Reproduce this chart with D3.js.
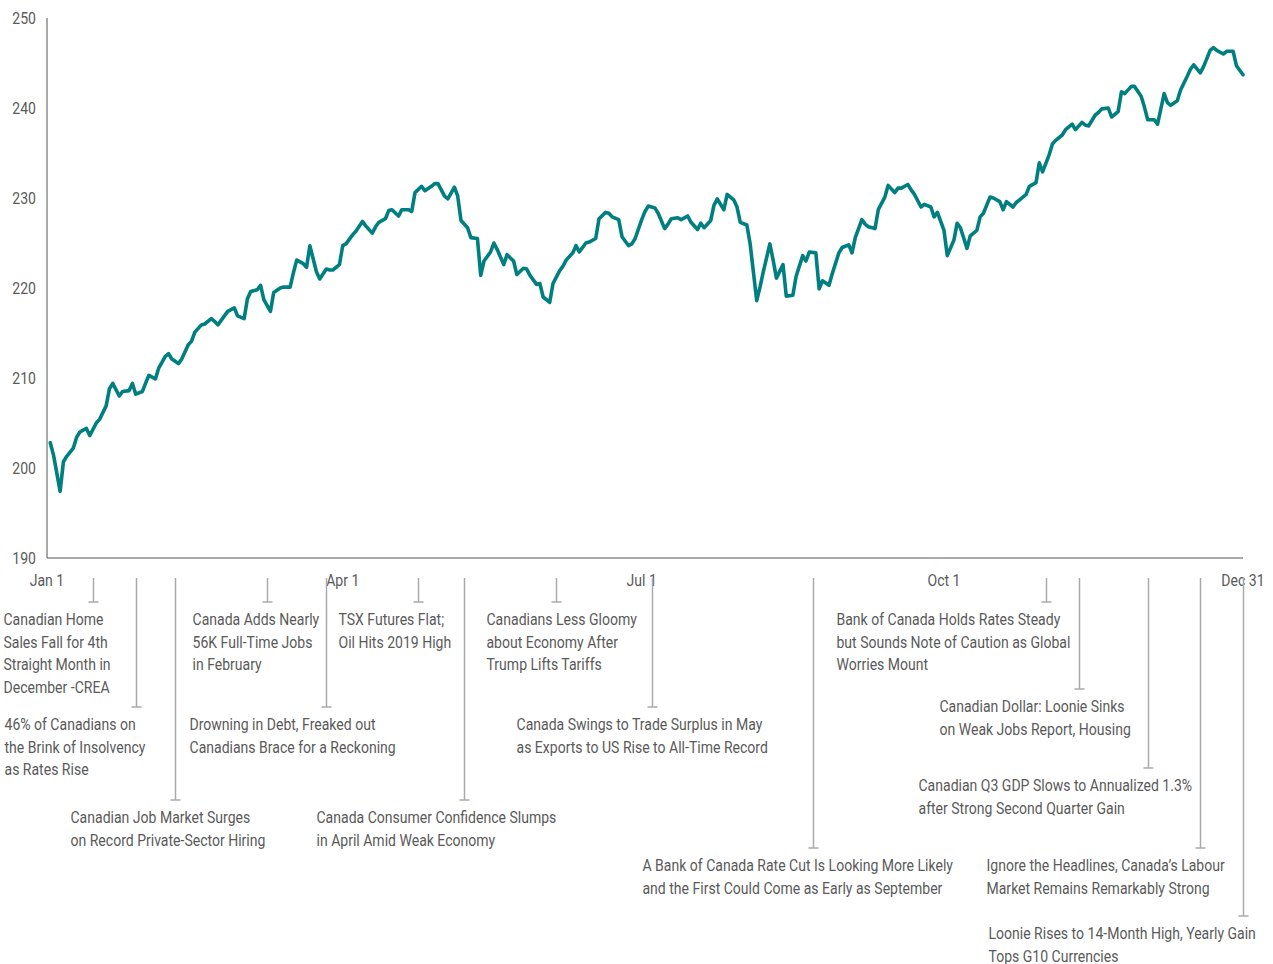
<!DOCTYPE html>
<html><head><meta charset="utf-8">
<script src="https://cdn.jsdelivr.net/npm/d3@7/dist/d3.min.js"></script>
<style>
body{margin:0;background:#fff}
text{font-family:"Roboto","Liberation Sans",sans-serif;}
</style>
</head><body>
<svg id="chart" width="1273" height="964"></svg>
<script>
// ---- DATA ----
// day of year in 2019 (Jan 1 = 0) for each index reading
const dayOfYear = [
1,2,4,5,6,8,9,10,12,13,15,16,18,19,20,22,23,25,26,27,29,30,31,33,34,36,37,38,40,41,43,44,45,47,48,50,51,52,54,55,57,58,60,61,62,64,65,66,68,69,71,72,74,75,76,78,79,80,82,83,85,86,87,89,90,91,93,
94,96,97,99,100,101,103,104,105,107,108,110,111,112,114,115,117,118,119,121,122,124,125,126,128,129,131,132,133,135,136,137,139,140,142,143,145,146,147,149,150,151,153,154,156,157,158,160,161,162,164,165,167,168,170,171,172,174,175,177,178,179,181,182,183,
185,186,188,189,190,192,193,195,196,198,199,200,202,203,204,206,207,209,210,211,213,214,216,217,218,220,221,222,224,225,227,228,230,231,232,234,235,236,238,239,241,242,244,245,246,248,249,250,252,253,255,256,258,259,260,262,263,264,266,267,269,270,271,273,274,
276,277,278,280,281,283,284,285,287,288,290,291,292,294,295,297,298,299,301,302,303,305,306,307,309,310,312,313,315,316,317,319,320,321,323,324,326,327,328,330,331,333,334,335,337,338,340,341,342,344,345,347,348,349,351,352,354,355,356,358,359,361,362,364
];
const values = [
202.8,201.4,197.4,200.7,201.3,202.2,203.4,204.0,204.4,203.6,205.0,205.4,206.9,208.8,209.4,208.0,208.5,208.6,209.4,208.2,208.5,209.4,210.3,209.9,211.1,212.4,212.7,212.1,211.6,212.1,213.7,214.1,215.1,215.9,216.0,216.6,216.3,215.9,216.9,217.4,217.8,216.9,216.6,218.8,219.6,219.8,220.3,218.7,217.4,219.5,220.0,220.1,220.1,221.7,223.1,222.7,222.3,224.7,221.8,221.0,222.1,222.0,222.0,222.6,224.7,224.9,225.9,
226.3,227.4,226.9,226.1,226.8,227.3,227.7,228.6,228.7,228.0,228.7,228.7,228.5,230.6,231.3,230.8,231.3,231.6,231.6,230.2,229.9,231.2,230.2,227.5,226.7,225.6,225.5,221.4,223.0,224.0,225.0,224.3,222.6,223.7,223.0,221.5,222.2,222.1,221.4,220.4,220.5,219.0,218.4,220.5,221.9,222.4,223.1,223.9,224.7,224.0,225.0,225.1,225.5,227.7,228.4,228.3,227.9,227.6,225.7,224.7,224.9,225.5,227.6,228.5,229.1,
228.9,228.3,226.6,227.1,227.7,227.8,227.6,228.0,227.3,226.5,227.2,226.7,227.5,229.2,229.9,228.7,230.4,229.8,229.0,227.3,227.0,224.9,218.6,220.1,221.8,224.9,223.1,221.1,222.6,219.1,219.2,221.3,223.6,223.0,224.0,223.9,219.9,220.8,220.3,221.6,223.9,224.5,224.8,223.9,225.6,227.6,227.1,226.8,226.6,228.7,230.1,231.4,230.6,231.1,231.1,231.5,230.9,230.4,229.0,229.3,229.0,227.9,228.4,226.4,223.6,
225.3,227.2,226.7,224.4,225.8,226.4,227.9,228.3,230.1,230.0,229.6,228.7,229.6,229.0,229.5,230.1,230.4,231.3,231.7,233.9,232.9,234.8,236.0,236.4,237.0,237.6,238.2,237.6,238.4,238.1,238.0,239.2,239.5,239.9,240.0,239.0,239.6,241.8,241.6,242.4,242.4,241.3,240.1,238.7,238.7,238.2,241.6,240.6,240.3,240.8,242.0,243.5,244.3,244.8,243.9,244.6,246.4,246.7,246.4,246.0,246.3,246.3,244.7,243.7
];
const tickDates = ["2019-01-01","2019-04-01","2019-07-01","2019-10-01","2019-12-31"];
const tickLabels = ["Jan 1","Apr 1","Jul 1","Oct 1","Dec 31"];
const yTicks = [190,200,210,220,230,240,250];
const annotationDates = ["2019-01-15","2019-01-28","2019-02-09","2019-03-09","2019-03-27","2019-04-24","2019-05-08","2019-06-05","2019-07-04","2019-08-22","2019-11-01","2019-11-11","2019-12-02","2019-12-18","2019-12-31"];
const annotationTexts = [
 ["Canadian Home","Sales Fall for 4th","Straight Month in","December -CREA"],
 ["46% of Canadians on","the Brink of Insolvency","as Rates Rise"],
 ["Canadian Job Market Surges","on Record Private-Sector Hiring"],
 ["Canada Adds Nearly","56K Full-Time Jobs","in February"],
 ["Drowning in Debt, Freaked out","Canadians Brace for a Reckoning"],
 ["TSX Futures Flat;","Oil Hits 2019 High"],
 ["Canada Consumer Confidence Slumps","in April Amid Weak Economy"],
 ["Canadians Less Gloomy","about Economy After","Trump Lifts Tariffs"],
 ["Canada Swings to Trade Surplus in May","as Exports to US Rise to All-Time Record"],
 ["A Bank of Canada Rate Cut Is Looking More Likely","and the First Could Come as Early as September"],
 ["Bank of Canada Holds Rates Steady","but Sounds Note of Caution as Global","Worries Mount"],
 ["Canadian Dollar: Loonie Sinks","on Weak Jobs Report, Housing"],
 ["Canadian Q3 GDP Slows to Annualized 1.3%","after Strong Second Quarter Gain"],
 ["Ignore the Headlines, Canada\u2019s Labour","Market Remains Remarkably Strong"],
 ["Loonie Rises to 14-Month High, Yearly Gain","Tops G10 Currencies"]
];
// ---- LAYOUT (not data) ----
const annotationLayout = [
 {drop:24,dx:-90},{drop:129,dx:-132},{drop:222,dx:-105},{drop:24,dx:-75},{drop:129,dx:-137},
 {drop:24,dx:-80},{drop:222,dx:-148},{drop:24,dx:-70},{drop:129,dx:-136},{drop:270,dx:-171},
 {drop:24,dx:-210},{drop:111,dx:-140},{drop:190,dx:-230},{drop:270,dx:-214},{drop:338,dx:-255}
];

const svg = d3.select("#chart");
const margin = {left:47, right:1243, top:18, bottom:558};
const parse = d3.timeParse("%Y-%m-%d");
const start = parse("2019-01-01"), end = parse("2019-12-31");
const x = d3.scaleTime().domain([start, end]).range([margin.left, margin.right]);
const y = d3.scaleLinear().domain([190, 250]).range([margin.bottom, margin.top]);

const series = dayOfYear.map((d,i)=>({date:d3.timeDay.offset(start,d), value:values[i]}));

const textColor = "#5a5a5a";
const fs = 17;
// condensed look: measure a sample and compress horizontally
const probe = svg.append("text").attr("font-size",fs).text("Canada Swings to Trade Surplus in May");
const k = 246 / probe.node().getComputedTextLength();
probe.remove();
const squeeze = ax => `translate(${ax},0) scale(${k},1) translate(${-ax},0)`;

// axes lines
svg.append("line").attr("x1",margin.left).attr("x2",margin.left).attr("y1",margin.top).attr("y2",margin.bottom)
  .attr("stroke","#555").attr("stroke-width",1);
svg.append("line").attr("x1",margin.left).attr("x2",margin.right).attr("y1",margin.bottom).attr("y2",margin.bottom)
  .attr("stroke","#555").attr("stroke-width",1);

// y tick labels
svg.selectAll(".ytick").data(yTicks).join("text").attr("class","ytick")
  .attr("x",36).attr("y",d=>y(d)+6).attr("text-anchor","end")
  .attr("transform",squeeze(36))
  .attr("font-size",fs).attr("fill",textColor).text(d=>d);

// x tick labels
svg.selectAll(".xtick").data(tickDates).join("text").attr("class","xtick")
  .attr("x",d=>x(parse(d))).attr("y",586).attr("text-anchor","middle")
  .attr("transform",d=>squeeze(x(parse(d))))
  .attr("font-size",fs).attr("fill",textColor).text((d,i)=>tickLabels[i]);

// line
const line = d3.line().x(d=>x(d.date)).y(d=>y(d.value));
svg.append("path").datum(series).attr("d",line).attr("fill","none")
  .attr("stroke","#007f80").attr("stroke-width",3.6).attr("stroke-linejoin","round").attr("stroke-linecap","round");

// annotations
const lineTop = 578;
const lh = 22.7;
annotationDates.forEach((ds,i)=>{
  const ax = Math.round(x(parse(ds)))+0.5;
  const lay = annotationLayout[i];
  const capY = lineTop + lay.drop;
  const g = svg.append("g");
  g.append("line").attr("x1",ax).attr("x2",ax).attr("y1",lineTop).attr("y2",capY)
    .attr("stroke","#aaa").attr("stroke-width",1.5);
  g.append("line").attr("x1",ax-5).attr("x2",ax+5).attr("y1",capY).attr("y2",capY)
    .attr("stroke","#aaa").attr("stroke-width",1.5);
  const tx = ax + lay.dx;
  const t = g.append("text").attr("font-size",fs).attr("fill",textColor)
    .attr("transform",squeeze(tx));
  annotationTexts[i].forEach((s,j)=>{
    t.append("tspan").attr("x",tx).attr("y",capY+23+j*lh).text(s);
  });
});
</script>
</body></html>
